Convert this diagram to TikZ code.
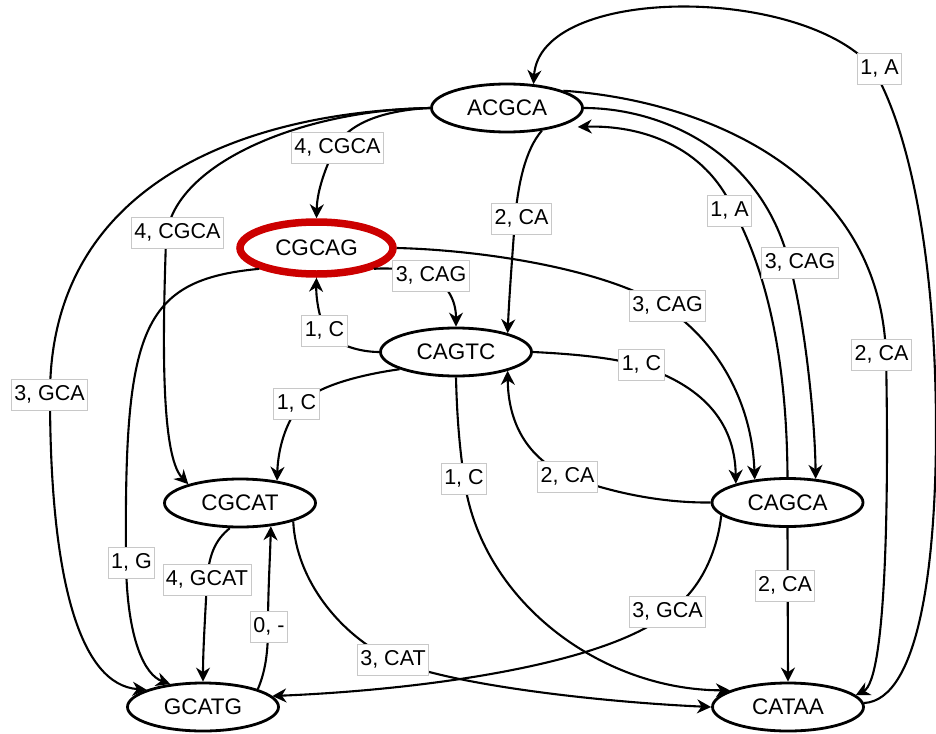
\documentclass[tikz,border=0pt]{standalone}
\usepackage{fontspec}
\setmainfont{Liberation Sans}
\usetikzlibrary{shapes.geometric,arrows.meta}
\definecolor{initred}{HTML}{CC0000}
\definecolor{lblgray}{HTML}{C8C8C8}
\begin{document}
\begin{tikzpicture}[x=1pt,y=-1pt,
  state/.style={ellipse, draw=black, line width=2.8pt, fill=white,
    minimum width=151pt, minimum height=48pt, inner sep=0pt,
    font=\fontsize{22.5}{27}\selectfont},
  initstate/.style={state, draw=initred, line width=7.5pt,
    minimum width=153pt, minimum height=52pt},
  conn/.style={line width=2.1pt, -{Stealth[length=14pt,width=14pt,inset=4.5pt]}},
  lbl/.style={draw=lblgray, line width=0.8pt, fill=white, inner xsep=3pt,
    inner ysep=0pt, minimum height=31pt, text height=15.5pt, text depth=4pt,
    font=\fontsize{21.5}{25}\selectfont}
]
\useasboundingbox (0,0) rectangle (936,733);

% states
\node[state]     (ACGCA) at (507,108)   {ACGCA};
\node[initstate] (CGCAG) at (316.5,248) {CGCAG};
\node[state]     (CAGTC) at (456,352)   {CAGTC};
\node[state]     (CGCAT) at (240,503)   {CGCAT};
\node[state]     (CAGCA) at (787.5,502.5) {CAGCA};
\node[state]     (GCATG) at (203,707)   {GCATG};
\node[state]     (CATAA) at (788,707)   {CATAA};

% connectors
\draw[conn] (ACGCA.west) .. controls (390,110) and (350,120) .. (335,148)
  .. controls (322,175) and (317,195) .. (CGCAG.north);
\draw[conn] (ACGCA.west) .. controls (300,110) and (170,165) .. (166,240)
  .. controls (163,330) and (160,455) .. (CGCAT.160);
\draw[conn] (ACGCA.west) .. controls (250,112) and (50,180) .. (50,395)
  .. controls (50,580) and (80,685) .. (GCATG.163);
\draw[conn] (ACGCA.-33) .. controls (525,150) and (518,185) .. (515,219)
  .. controls (512,260) and (509,300) .. (CAGTC.20);
\draw[conn] (CAGCA.90) .. controls (787,390) and (776,290) .. (734,211)
  .. controls (705,145) and (640,125) .. ([yshift=-9pt]ACGCA.-8);
\draw[conn] (ACGCA.east) .. controls (660,108) and (760,150) .. (789,262)
  .. controls (805,320) and (815,420) .. (CAGCA.40);
\draw[conn] (ACGCA.17) .. controls (700,100) and (880,170) .. (886,355)
  .. controls (889,500) and (886,680) .. (CATAA.10);
\draw[conn] (CATAA.3) .. controls (920,700) and (936,560) .. (936,430)
  .. controls (936,260) and (910,130) .. (872,67)
  .. controls (800,-15) and (540,-15) .. (ACGCA.42);
\draw[conn] (CGCAG.east) .. controls (480,250) and (600,268) .. (662,305)
  .. controls (715,338) and (752,400) .. (CAGCA.145);
\draw[conn] (CGCAG.-20) .. controls (385,268) and (410,268) .. (430,276)
  .. controls (447,284) and (456,300) .. (CAGTC.north);
\draw[conn] (CAGTC.west) .. controls (360,352) and (335,345) .. (326,331)
  .. controls (318,316) and (316,295) .. (CGCAG.south);
\draw[conn] (CAGTC.197) .. controls (365,374) and (318,385) .. (302,403)
  .. controls (285,422) and (278,450) .. (CGCAT.31);
\draw[conn] (CAGTC.east) .. controls (575,354) and (615,358) .. (641,366)
  .. controls (700,385) and (735,420) .. (CAGCA.160);
\draw[conn] (CAGCA.west) .. controls (660,503) and (610,492) .. (570,477)
  .. controls (525,458) and (508,420) .. (CAGTC.-20);
\draw[conn] (CAGTC.south) .. controls (457,420) and (460,450) .. (464,478)
  .. controls (480,600) and (600,690) .. (CATAA.164);
\draw[conn] (CGCAG.200) .. controls (140,280) and (124,330) .. (126,562)
  .. controls (127,640) and (145,675) .. (GCATG.145);
\draw[conn] (CGCAT.-112) .. controls (215,540) and (209,555) .. (207,580)
  .. controls (205,620) and (203,650) .. (GCATG.north);
\draw[conn] (GCATG.18) .. controls (266,670) and (268,650) .. (268,627)
  .. controls (268,590) and (270,560) .. (CGCAT.-37);
\draw[conn] (CGCAT.-19) .. controls (296,580) and (340,635) .. (393,660)
  .. controls (450,685) and (600,702) .. (CATAA.west);
\draw[conn] (CAGCA.191) .. controls (718,545) and (705,585) .. (672,610)
  .. controls (610,665) and (420,690) .. (GCATG.9);
\draw[conn] (CAGCA.south) -- (CATAA.north);

% labels
\node[lbl] (l1)  at (337.5,148)  {4, CGCA};
\node[lbl] (l2)  at (177.5,233)  {4, CGCA};
\node[lbl] (l3)  at (49.5,394.5) {3, GCA};
\node[lbl] (l4)  at (521.5,219)  {2, CA};
\node[lbl] (l5)  at (729.5,211)  {1, A};
\node[lbl] (l6)  at (800,262.5)  {3, CAG};
\node[lbl] (l7)  at (881.5,355)  {2, CA};
\node[lbl] (l8)  at (879.5,69)   {1, A};
\node[lbl] (l9)  at (667.5,305.5) {3, CAG};
\node[lbl] (l10) at (431,275.5)  {3, CAG};
\node[lbl] (l11) at (324.5,331)  {1, C};
\node[lbl] (l12) at (296.5,403.5) {1, C};
\node[lbl] (l13) at (641.5,365)  {1, C};
\node[lbl] (l14) at (567.5,476.5) {2, CA};
\node[lbl] (l15) at (464,478.5)  {1, C};
\node[lbl] (l16) at (131.5,562.5) {1, G};
\node[lbl] (l17) at (207,579.5)  {4, GCAT};
\node[lbl] (l18) at (269,626.5)  {0, -};
\node[lbl] (l19) at (393,659.5)  {3, CAT};
\node[lbl] (l20) at (667.5,611.5) {3, GCA};
\node[lbl] (l21) at (785,586)    {2, CA};
\end{tikzpicture}
\end{document}
